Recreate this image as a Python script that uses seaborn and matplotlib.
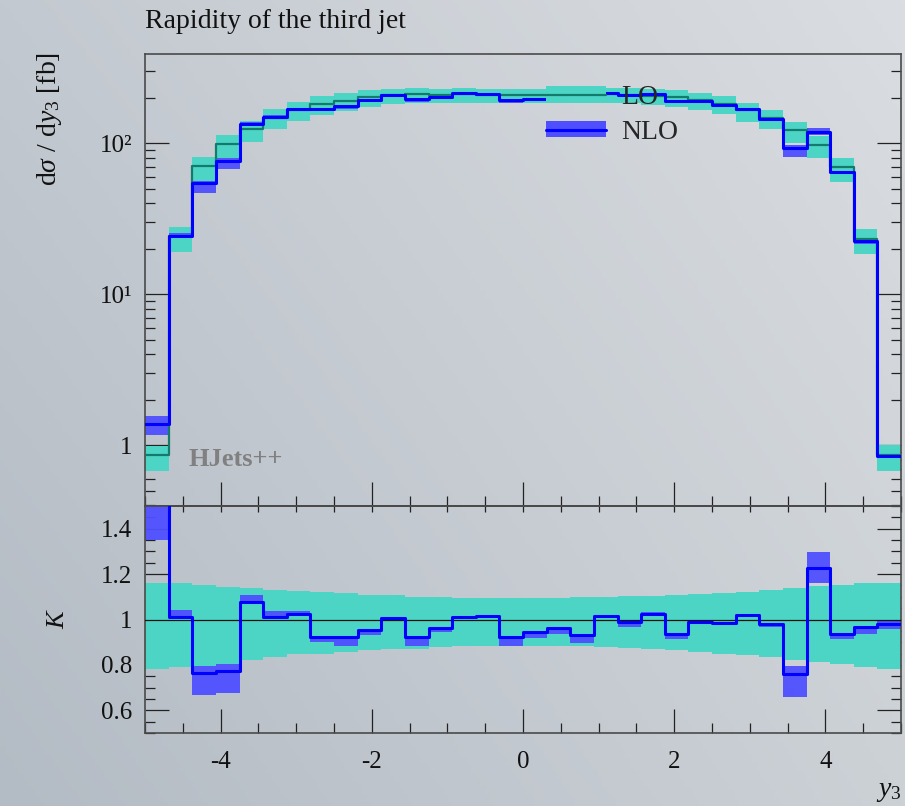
import numpy as np
import matplotlib
matplotlib.use("Agg")
import matplotlib.pyplot as plt
import seaborn as sns
from matplotlib.ticker import FixedLocator, FixedFormatter, LogLocator, NullFormatter, MultipleLocator
from matplotlib.patches import Patch
from matplotlib.lines import Line2D

# ---------------- data ----------------
edges = [-5.0, -4.6875, -4.375, -4.0625, -3.75, -3.4375, -3.125, -2.8125, -2.5,
         -2.1875, -1.875, -1.5625, -1.25, -0.9375, -0.625, -0.3125, 0.0,
         0.3125, 0.625, 0.9375, 1.25, 1.5625, 1.875, 2.1875, 2.5, 2.8125,
         3.125, 3.4375, 3.75, 4.0625, 4.375, 4.6875, 5.0]

# LO central value per bin [fb]
lo_central = [0.86, 24.2, 70.8, 99.0, 124.0, 148.0, 165.5, 182.0, 191.5, 201.6,
              208.0, 211.0, 210.0, 211.0, 210.0, 210.0, 209.0, 210.0, 210.0, 211.0,
              210.0, 206.0, 202.0, 193.0, 183.0, 165.0, 148.0, 122.5, 97.5, 69.3,
              23.2, 0.865]
# LO scale band relative to LO central
lo_band_up = [1.159, 1.159, 1.152, 1.144, 1.137, 1.132, 1.127, 1.121, 1.115, 1.110,
              1.106, 1.100, 1.097, 1.096, 1.093, 1.093, 1.093, 1.096, 1.097, 1.100,
              1.103, 1.104, 1.107, 1.112, 1.118, 1.122, 1.129, 1.137, 1.147, 1.152,
              1.159, 1.162]
lo_band_dn = [0.781, 0.791, 0.796, 0.806, 0.823, 0.835, 0.846, 0.850, 0.857, 0.865,
              0.869, 0.872, 0.879, 0.882, 0.884, 0.885, 0.885, 0.884, 0.882, 0.879,
              0.875, 0.872, 0.865, 0.857, 0.850, 0.843, 0.835, 0.823, 0.813, 0.803,
              0.791, 0.781]
# K factor NLO/LO
k_factor = [1.62, 1.009, 0.765, 0.774, 1.078, 1.013, 1.024, 0.924, 0.921, 0.954,
            1.007, 0.924, 0.962, 1.012, 1.015, 0.924, 0.943, 0.962, 0.931, 1.015,
            0.987, 1.026, 0.938, 0.987, 0.984, 1.018, 0.978, 0.759, 1.226, 0.938,
            0.968, 0.982]
# NLO band relative to LO central
nlo_band_dn = [1.35, 1.009, 0.666, 0.677, 1.078, 1.013, 1.024, 0.902, 0.884, 0.931,
               1.000, 0.884, 0.943, 1.005, 1.010, 0.884, 0.919, 0.938, 0.897, 1.010,
               0.968, 1.020, 0.912, 0.980, 0.978, 1.012, 0.965, 0.659, 1.159, 0.912,
               0.934, 0.960]
nlo_band_up = [1.81, 1.044, 0.796, 0.806, 1.107, 1.037, 1.038, 0.924, 0.921, 0.954,
               1.012, 0.924, 0.962, 1.015, 1.018, 0.924, 0.943, 0.962, 0.931, 1.020,
               0.987, 1.035, 0.938, 0.990, 0.988, 1.025, 0.978, 0.796, 1.298, 0.938,
               0.968, 1.000]

y_ticks_top = [1, 10, 100]
y_ticklabels_top = ["1", "10\u00b9", "10\u00b2"]
k_ticks = [0.6, 0.8, 1.0, 1.2, 1.4]
k_ticklabels = ["0.6", "0.8", "1", "1.2", "1.4"]
x_ticks = [-4, -2, 0, 2, 4]
x_ticklabels = ["-4", "-2", "0", "2", "4"]

# ---------------- style ----------------
sns.set_theme(style="ticks")
plt.rcParams["font.family"] = ["Liberation Serif", "DejaVu Serif"]
plt.rcParams["mathtext.fontset"] = "custom"
plt.rcParams["mathtext.rm"] = "Liberation Serif"
plt.rcParams["mathtext.it"] = "Liberation Serif:italic"

TEAL = "#4cd5c5"
TEAL_LINE = "#137a6c"
BLUE_BAND = "#4f4fff"
BLUE = "#0000ff"
SPINE = "#4a4a4a"

W, H = 905, 806
fig = plt.figure(figsize=(W / 100, H / 100), dpi=100)

# background gradient
bg = fig.add_axes([0, 0, 1, 1], zorder=-10)
tl = np.array([0xc3, 0xc9, 0xd0]) / 255
tr = np.array([0xda, 0xdd, 0xe1]) / 255
bl = np.array([0xb3, 0xbb, 0xc4]) / 255
br = np.array([0xcc, 0xd1, 0xd6]) / 255
u = np.linspace(0, 1, 200)[None, :, None]
v = np.linspace(0, 1, 200)[:, None, None]
grad = (1 - v) * ((1 - u) * tl + u * tr) + v * ((1 - u) * bl + u * br)
bg.imshow(grad, aspect="auto", extent=[0, 1, 0, 1], origin="upper")
bg.set_axis_off()

L, R = 145, 901
ax1 = fig.add_axes([L / W, 1 - 506 / H, (R - L) / W, (506 - 54) / H])
ax2 = fig.add_axes([L / W, 1 - 733 / H, (R - L) / W, (733 - 506) / H])
for a in (ax1, ax2):
    a.set_facecolor("none")
    for s in a.spines.values():
        s.set_color(SPINE)
        s.set_linewidth(1.2)
        s.set_visible(True)

edges_a = np.array(edges)
lo = np.array(lo_central)
ext = lambda arr: np.append(arr, arr[-1])

# ---------------- top panel ----------------
ax1.set_yscale("log")
ax1.fill_between(edges_a, ext(lo * np.array(lo_band_dn)), ext(lo * np.array(lo_band_up)),
                 step="post", color=TEAL, lw=0, zorder=1)
ax1.fill_between(edges_a, ext(lo * np.array(nlo_band_dn)), ext(lo * np.array(nlo_band_up)),
                 step="post", color=BLUE_BAND, lw=0, alpha=0.95, zorder=2)
sns.lineplot(x=edges_a, y=ext(lo), drawstyle="steps-post", color=TEAL_LINE, lw=1.6,
             ax=ax1, estimator=None, sort=False, zorder=3)
sns.lineplot(x=edges_a, y=ext(lo * np.array(k_factor)), drawstyle="steps-post", color=BLUE,
             lw=2.2, ax=ax1, estimator=None, sort=False, zorder=4)
ax1.set_xlim(-5, 5)
ax1.set_ylim(10 ** -0.402, 10 ** 2.591)
ax1.yaxis.set_major_locator(FixedLocator(y_ticks_top))
ax1.yaxis.set_major_formatter(FixedFormatter(y_ticklabels_top))
ax1.yaxis.set_minor_locator(LogLocator(base=10, subs=np.arange(2, 10), numticks=20))
ax1.yaxis.set_minor_formatter(NullFormatter())
ax1.xaxis.set_major_locator(FixedLocator(x_ticks))
ax1.xaxis.set_minor_locator(MultipleLocator(0.5))
ax1.tick_params(which="both", direction="in", left=True, right=True, bottom=True, top=False,
                labelbottom=False, colors="#222222", width=0.9)
ax1.tick_params(which="major", length=17, labelsize=18, pad=9)
ax1.tick_params(which="minor", length=7)
ax1.set_xlabel("")
ax1.set_ylabel("")

leg = ax1.legend(handles=[(Patch(color=TEAL, lw=0), Line2D([], [], color=TEAL_LINE, lw=1.6)),
                          (Patch(color=BLUE_BAND, lw=0), Line2D([], [], color=BLUE, lw=2.2))],
                 labels=["LO", "NLO"], frameon=False, fontsize=20, loc="upper left",
                 bbox_to_anchor=(546 / W, 1 - 85 / H), bbox_transform=fig.transFigure,
                 borderaxespad=0, borderpad=0, handlelength=2.15, handleheight=0.55,
                 handletextpad=0.55, labelspacing=0.35)
leg.set_zorder(10)

ax1.text(188 / W, 1 - 460 / H, "HJets++", transform=fig.transFigure, color="#808080",
         fontsize=19, fontweight="bold", va="center", ha="left")

# ---------------- ratio panel ----------------
ax2.fill_between(edges_a, ext(np.array(lo_band_dn)), ext(np.array(lo_band_up)),
                 step="post", color=TEAL, lw=0, zorder=1)
ax2.fill_between(edges_a, ext(np.array(nlo_band_dn)), ext(np.array(nlo_band_up)),
                 step="post", color=BLUE_BAND, lw=0, alpha=0.95, zorder=2)
ax2.axhline(1.0, color="#111111", lw=0.9, zorder=3)
sns.lineplot(x=edges_a, y=ext(np.array(k_factor)), drawstyle="steps-post", color=BLUE,
             lw=2.2, ax=ax2, estimator=None, sort=False, zorder=4)
ax2.set_xlim(-5, 5)
ax2.set_ylim(0.5, 1.5)
ax2.yaxis.set_major_locator(FixedLocator(k_ticks))
ax2.yaxis.set_major_formatter(FixedFormatter(k_ticklabels))
ax2.yaxis.set_minor_locator(MultipleLocator(0.05))
ax2.xaxis.set_major_locator(FixedLocator(x_ticks))
ax2.xaxis.set_major_formatter(FixedFormatter(x_ticklabels))
ax2.xaxis.set_minor_locator(MultipleLocator(0.5))
ax2.tick_params(which="both", direction="in", left=True, right=True, bottom=True, top=False,
                colors="#222222", width=0.9)
ax2.tick_params(which="major", length=17, labelsize=18, pad=9)
ax2.tick_params(axis="x", which="major", pad=13)
ax2.tick_params(which="minor", length=7)
ax2.set_xlabel("")
ax2.set_ylabel("")
for lab in ax1.get_yticklabels() + ax2.get_yticklabels() + ax2.get_xticklabels():
    lab.set_color("#111111")

sec = ax2.secondary_xaxis("top")
sec.xaxis.set_major_locator(MultipleLocator(0.5))
sec.tick_params(which="both", direction="in", length=4.5, width=0.9, colors="#222222",
                labeltop=False)
sec.spines["top"].set_color(SPINE)
sec.spines["top"].set_linewidth(1.2)

# ---------------- texts ----------------
fig.text(145 / W, 1 - 22 / H, "Rapidity of the third jet", fontsize=20, ha="left",
         va="center", color="#111111")
fig.text(50 / W, 1 - 52 / H, r"d$\sigma$ / d$y_3$ [fb]", rotation=90, fontsize=20,
         ha="center", va="top", color="#111111")
fig.text(58 / W, 1 - 620 / H, "K", rotation=90, fontsize=19, style="italic",
         ha="center", va="center", color="#111111")
fig.text(889 / W, 1 - 791 / H, r"$y_3$", fontsize=20, ha="center", va="center",
         color="#111111")

fig.savefig("out.png", dpi=100)
